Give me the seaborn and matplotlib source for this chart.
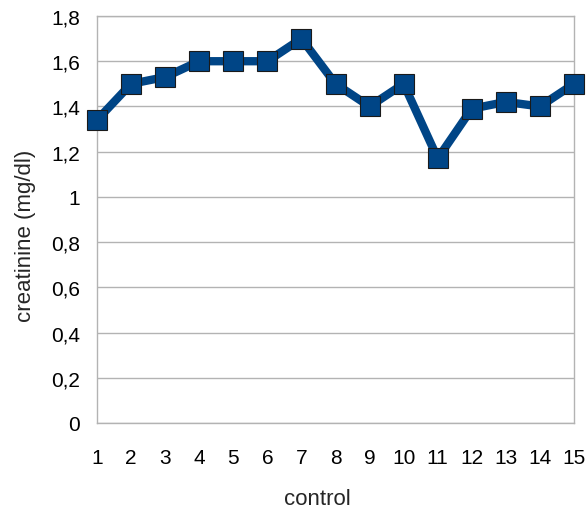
import matplotlib
matplotlib.use("Agg")
import matplotlib.pyplot as plt
import seaborn as sns
import pandas as pd

# Creatinine measurements for the control group
controls = list(range(1, 16))
creatinine = [1.34, 1.50, 1.53, 1.60, 1.60, 1.60, 1.70, 1.50, 1.40, 1.50,
              1.17, 1.39, 1.42, 1.40, 1.50]
y_ticks = [0, 0.2, 0.4, 0.6, 0.8, 1.0, 1.2, 1.4, 1.6, 1.8]
y_tick_labels = ["0", "0,2", "0,4", "0,6", "0,8", "1", "1,2", "1,4", "1,6", "1,8"]

sns.set_style("white")
plt.rcParams["font.family"] = ["Liberation Sans", "DejaVu Sans"]

df = pd.DataFrame({"control": controls, "creatinine": creatinine})

fig = plt.figure(figsize=(5.88, 5.10), dpi=100)
ax = fig.add_axes([97 / 588, (510 - 424) / 510, (574 - 97) / 588, (424 - 17) / 510])

grid_col = "#b3b3b3"
sns.lineplot(data=df, x="control", y="creatinine", ax=ax, color="#004586",
             linewidth=6, marker="s", markersize=14, markeredgecolor="#1a1a1a",
             markeredgewidth=0.8, clip_on=False, zorder=3)

ax.set_xlim(1, 15)
ax.set_ylim(0, 1.8)
ax.set_xticks(controls)
ax.set_xticklabels([str(c) for c in controls])
ax.set_yticks(y_ticks)
ax.set_yticklabels(y_tick_labels)
ax.yaxis.grid(True, color=grid_col, linewidth=1)
ax.xaxis.grid(False)

for side in ["left", "bottom", "right", "top"]:
    ax.spines[side].set_color(grid_col)
    ax.spines[side].set_linewidth(1)

ax.tick_params(axis="both", which="major", direction="out", length=8,
               width=1, color=grid_col, labelsize=15, labelcolor="black")
ax.tick_params(axis="x", pad=10)
ax.tick_params(axis="y", pad=4)

ax.set_xlabel("control", fontsize=16, labelpad=15)
ax.set_ylabel("creatinine (mg/dl)", fontsize=16, labelpad=11)
ax.xaxis.label.set_x(0.461)
ax.yaxis.label.set_y(0.462)

fig.savefig("out.png", dpi=100)
